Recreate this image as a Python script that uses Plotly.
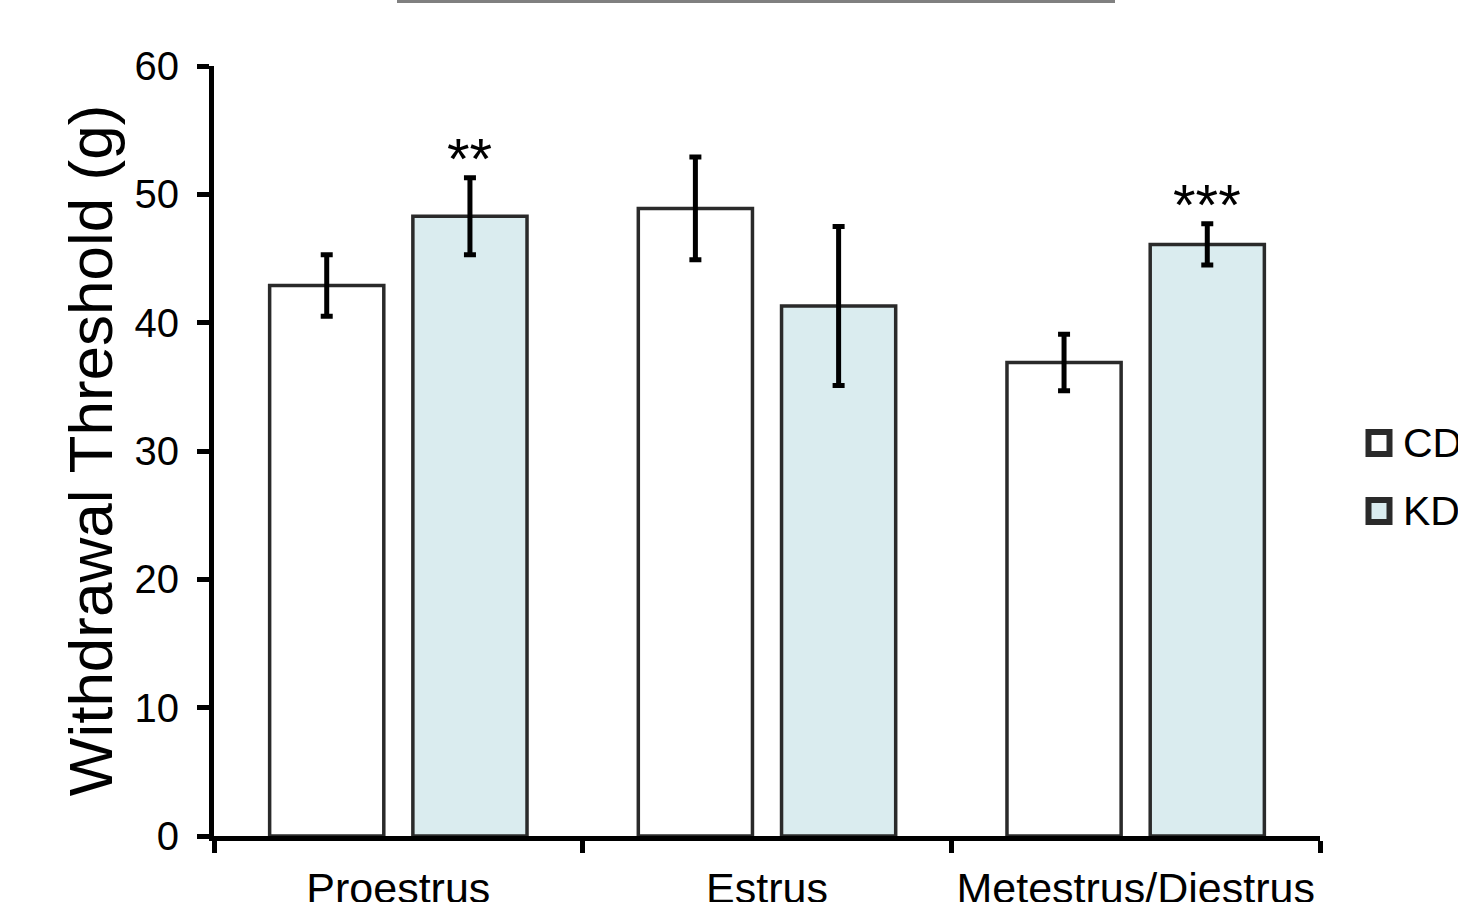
import plotly.graph_objects as go

# ---- data ----
categories = ["Proestrus", "Estrus", "Metestrus/Diestrus"]
series_names = ["CD", "KD"]
cd_values = [42.9, 48.9, 36.9]
cd_errors = [2.4, 4.0, 2.2]
kd_values = [48.3, 41.3, 46.1]
kd_errors = [3.0, 6.2, 1.6]
kd_significance = ["**", "", "***"]
y_ticks = [0, 10, 20, 30, 40, 50, 60]

FONT = "Liberation Sans, Arial, sans-serif"
EDGE = "#2a2a2a"
KD_FILL = "#daecef"

fig = go.Figure()
fig.add_trace(go.Bar(
    x=categories, y=cd_values, name=series_names[0],
    marker=dict(color="white", line=dict(color=EDGE, width=3.5)),
    error_y=dict(type="data", array=cd_errors, color="black", thickness=5, width=6),
    showlegend=False,
))
fig.add_trace(go.Bar(
    x=categories, y=kd_values, name=series_names[1],
    marker=dict(color=KD_FILL, line=dict(color=EDGE, width=3.5)),
    error_y=dict(type="data", array=kd_errors, color="black", thickness=5, width=6),
    showlegend=False,
))

# significance marks above KD bars
for cat, v, e, s in zip(categories, kd_values, kd_errors, kd_significance):
    if s:
        fig.add_annotation(x=cat, y=v + e, xref="x", yref="y", text=s,
                           showarrow=False, xanchor="center", yanchor="bottom",
                           xshift=71.5, yshift=-15,
                           font=dict(family=FONT, size=58, color="black"))

# axis title as rotated annotation
fig.add_annotation(x=-0.112, y=0.5, xref="paper", yref="paper",
                   text="Withdrawal Threshold (g)", textangle=-90, showarrow=False,
                   xanchor="center", yanchor="middle",
                   font=dict(family=FONT, size=62, color="black"))

# manual legend
L, T = 214, 66
PW, PH = 1106, 770
def px(xp):
    return (xp - L) / PW
def py(yp):
    return (T + PH - yp) / PH

legend_fills = ["white", KD_FILL]
legend_centers = [443, 511]
for name, fill, cy in zip(series_names, legend_fills, legend_centers):
    fig.add_shape(type="rect", xref="paper", yref="paper",
                  x0=px(1368.5), x1=px(1389.5), y0=py(cy + 11), y1=py(cy - 11),
                  fillcolor=fill, line=dict(color=EDGE, width=6))
    fig.add_annotation(x=px(1401), y=py(cy), xref="paper", yref="paper",
                       text=name, showarrow=False, xanchor="left", yanchor="middle",
                       font=dict(family=FONT, size=41, color="black"))

# grey line at the top edge
fig.add_shape(type="line", xref="paper", yref="paper",
              x0=px(397), x1=px(1115), y0=py(1.5), y1=py(1.5),
              line=dict(color="#808080", width=3))

fig.update_layout(
    width=1458, height=902, autosize=False,
    margin=dict(l=L, r=1458 - L - PW, t=T, b=902 - T - PH),
    paper_bgcolor="white", plot_bgcolor="white",
    barmode="group", bargap=0.223, bargroupgap=0.203,
    font=dict(family=FONT, color="black"),
)
fig.update_xaxes(
    type="category", range=[-0.5, 2.5], tickson="boundaries",
    ticks="outside", ticklen=12, tickwidth=5, tickcolor="black",
    showline=True, linewidth=5, linecolor="black", showgrid=False,
    tickangle=0, automargin=False, ticklabelstandoff=10,
    tickfont=dict(family=FONT, size=43, color="black"),
)
fig.update_yaxes(
    range=[0, 60], tickmode="array", tickvals=y_ticks,
    ticks="outside", ticklen=12, tickwidth=5, tickcolor="black",
    showline=True, linewidth=5, linecolor="black", showgrid=False, zeroline=False,
    automargin=False, ticklabelstandoff=10,
    tickfont=dict(family=FONT, size=40, color="black"),
)

fig.write_html("out.html")
